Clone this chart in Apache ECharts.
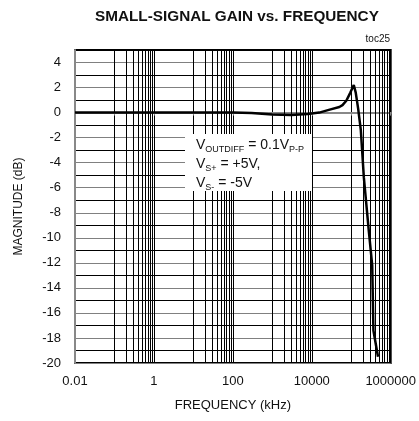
<!DOCTYPE html>
<html>
<head>
<meta charset="utf-8">
<script src="https://cdn.jsdelivr.net/npm/echarts@6/dist/echarts.min.js"></script>
<style>
  html, body { margin: 0; padding: 0; background: #fff; }
  #chart { width: 419px; height: 421px; }
</style>
</head>
<body>
<div id="chart"></div>
<script>
// frequency (kHz) and gain (dB)
const freqKHz = [0.01, 0.1, 1, 10, 100, 300, 1000, 3000, 8000, 15500, 27000, 50000, 53000, 60000, 75000, 95000, 116000, 130000, 150000, 175000, 209000, 280000, 340000, 365000, 477000];
const gainDb = [0, 0, 0, 0, 0, -0.03, -0.15, -0.2, -0.12, 0, 0.22, 0.45, 0.42, 0.6, 0.95, 1.6, 2.2, 1.6, 0.3, -1.4, -5.2, -9.5, -12.2, -17.4, -19.5];

const yTickLabels = [-20, -18, -16, -14, -12, -10, -8, -6, -4, -2, 0, 2, 4];
const xTickLabels = ["0.01", "1", "100", "10000", "1000000"];

// minor vertical grid lines only appear in every other decade
const minorDecades = [0.1, 10, 1000, 100000];
const minorSteps = [2, 3, 4, 5, 6, 7, 8, 9];
const minorLines = [];
minorDecades.forEach(d => minorSteps.forEach(s => minorLines.push({ xAxis: d * s })));

const chart = echarts.init(document.getElementById("chart"));

const font = "'Liberation Sans', Arial, sans-serif";

let option = {
  animation: false,
  title: {
    text: "SMALL-SIGNAL GAIN vs. FREQUENCY",
    left: 90,
    top: 4,
    textStyle: {
      fontFamily: font,
      fontWeight: "bold",
      fontSize: 15.3,
      color: "#111"
    }
  },
  grid: {
    left: 75,
    right: 27,
    top: 50,
    bottom: 58,
    show: true,
    borderColor: "#000",
    borderWidth: 2,
    containLabel: false
  },
  xAxis: {
    type: "log",
    logBase: 10,
    min: 0.01,
    max: 1000000,
    splitNumber: 8,
    name: "FREQUENCY (kHz)",
    nameLocation: "middle",
    nameGap: 36,
    nameTextStyle: { fontFamily: font, fontSize: 13, color: "#111" },
    axisLine: { show: true, lineStyle: { color: "#888", width: 2 } },
    axisTick: { show: true, length: 3, inside: false, lineStyle: { color: "#888" } },
    axisLabel: {
      fontFamily: font,
      fontSize: 13,
      color: "#111",
      margin: 12,
      formatter: v => {
        const e = Math.round(Math.log10(v));
        const s = e < 0 ? Math.pow(10, e).toFixed(-e) : String(Math.round(Math.pow(10, e)));
        return xTickLabels.indexOf(s) >= 0 ? s : "";
      }
    },
    splitLine: { show: true, lineStyle: { color: "#000", width: 1 } }
  },
  yAxis: {
    type: "value",
    min: -20,
    max: 5,
    interval: 1,
    name: "MAGNITUDE (dB)",
    nameLocation: "middle",
    nameGap: 50,
    nameTextStyle: { fontFamily: font, fontSize: 12, color: "#111" },
    axisLine: { show: true, lineStyle: { color: "#888", width: 2 } },
    axisTick: { show: false },
    axisLabel: {
      fontFamily: font,
      fontSize: 13,
      color: "#111",
      margin: 14,
      formatter: v => (yTickLabels.indexOf(v) >= 0 ? String(v) : "")
    },
    splitLine: { show: true, lineStyle: { color: ["#808080", "#000"], width: 1 } }
  },
  graphic: [
    {
      type: "text",
      right: 29,
      top: 34,
      style: { text: "toc25", fontFamily: font, fontSize: 10, fill: "#111" }
    },
    {
      type: "rect",
      z: 5,
      shape: { x: 185, y: 134, width: 127, height: 57 },
      style: { fill: "#fff" }
    },
    {
      type: "text",
      z: 6,
      x: 196,
      y: 136,
      style: {
        text: "V{s|OUTDIFF} = 0.1V{s|P-P}\nV{s|S+} = +5V,\nV{s|S-} = -5V",
        fontFamily: font,
        fontSize: 14,
        lineHeight: 19,
        fill: "#111",
        rich: {
          s: { fontFamily: font, fontSize: 9, fill: "#111", padding: [8, 0, 0, 0] }
        }
      }
    }
  ],
  series: [
    {
      name: "gain",
      type: "line",
      z: 10,
      data: freqKHz.map((f, i) => [f, gainDb[i]]),
      showSymbol: false,
      smooth: false,
      lineStyle: { color: "#000", width: 2.5 },
      markLine: {
        silent: true,
        z: 2,
        symbol: ["none", "none"],
        label: { show: false },
        lineStyle: { type: "solid", color: "#000", width: 1 },
        emphasis: { disabled: true },
        data: minorLines
      }
    }
  ]
};

chart.setOption(option);
</script>
</body>
</html>
